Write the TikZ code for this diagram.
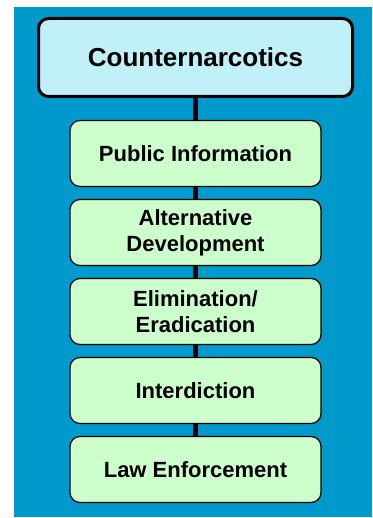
\documentclass[tikz,border=0pt]{standalone}
\usepackage{fontspec}
\setmainfont{Liberation Sans}
\usepackage{tikz}
\definecolor{cnblue}{RGB}{0,153,204}
\definecolor{cncyan}{RGB}{192,240,248}
\definecolor{cngreen}{RGB}{204,255,204}
\tikzset{
	topnode/.style={rectangle, rounded corners=10pt, draw=black, fill=cncyan, line width=3pt, minimum width=314pt, minimum height=78pt, font=\fontsize{26}{30}\selectfont\bfseries},
	greennode/.style={rectangle, rounded corners=10pt, draw=black, fill=cngreen, line width=1.2pt, minimum width=251pt, minimum height=66pt, align=center, font=\fontsize{22}{26}\selectfont\bfseries},
	spine/.style={line width=5pt, black}
}
\begin{document}
\begin{tikzpicture}[x=1pt,y=1pt]
			\useasboundingbox (0,0) rectangle (372,518);
			\fill [cnblue] (14,1) rectangle (372,511);
			
			\node[topnode] (cn) at (195.5,460.5) {Counternarcotics};
			\node[greennode] (pub) at (195.5,364.5) {Public Information};
			\node[greennode] (alt) at (195.5,285.5) {Alternative\\Development};
			\node[greennode] (eli) at (195.5,206.5) {Elimination/\\Eradication};
			\node[greennode] (int) at (195.5,127.5) {Interdiction};
			\node[greennode] (law) at (195.5,48.5) {Law Enforcement};
			
			\draw [spine] (cn.south) -- (pub.north);
			\draw [spine] (pub.south) -- (alt.north);
			\draw [spine] (alt.south) -- (eli.north);
			\draw [spine] (eli.south) -- (int.north);
			\draw [spine] (int.south) -- (law.north);
		\end{tikzpicture}
\end{document}
